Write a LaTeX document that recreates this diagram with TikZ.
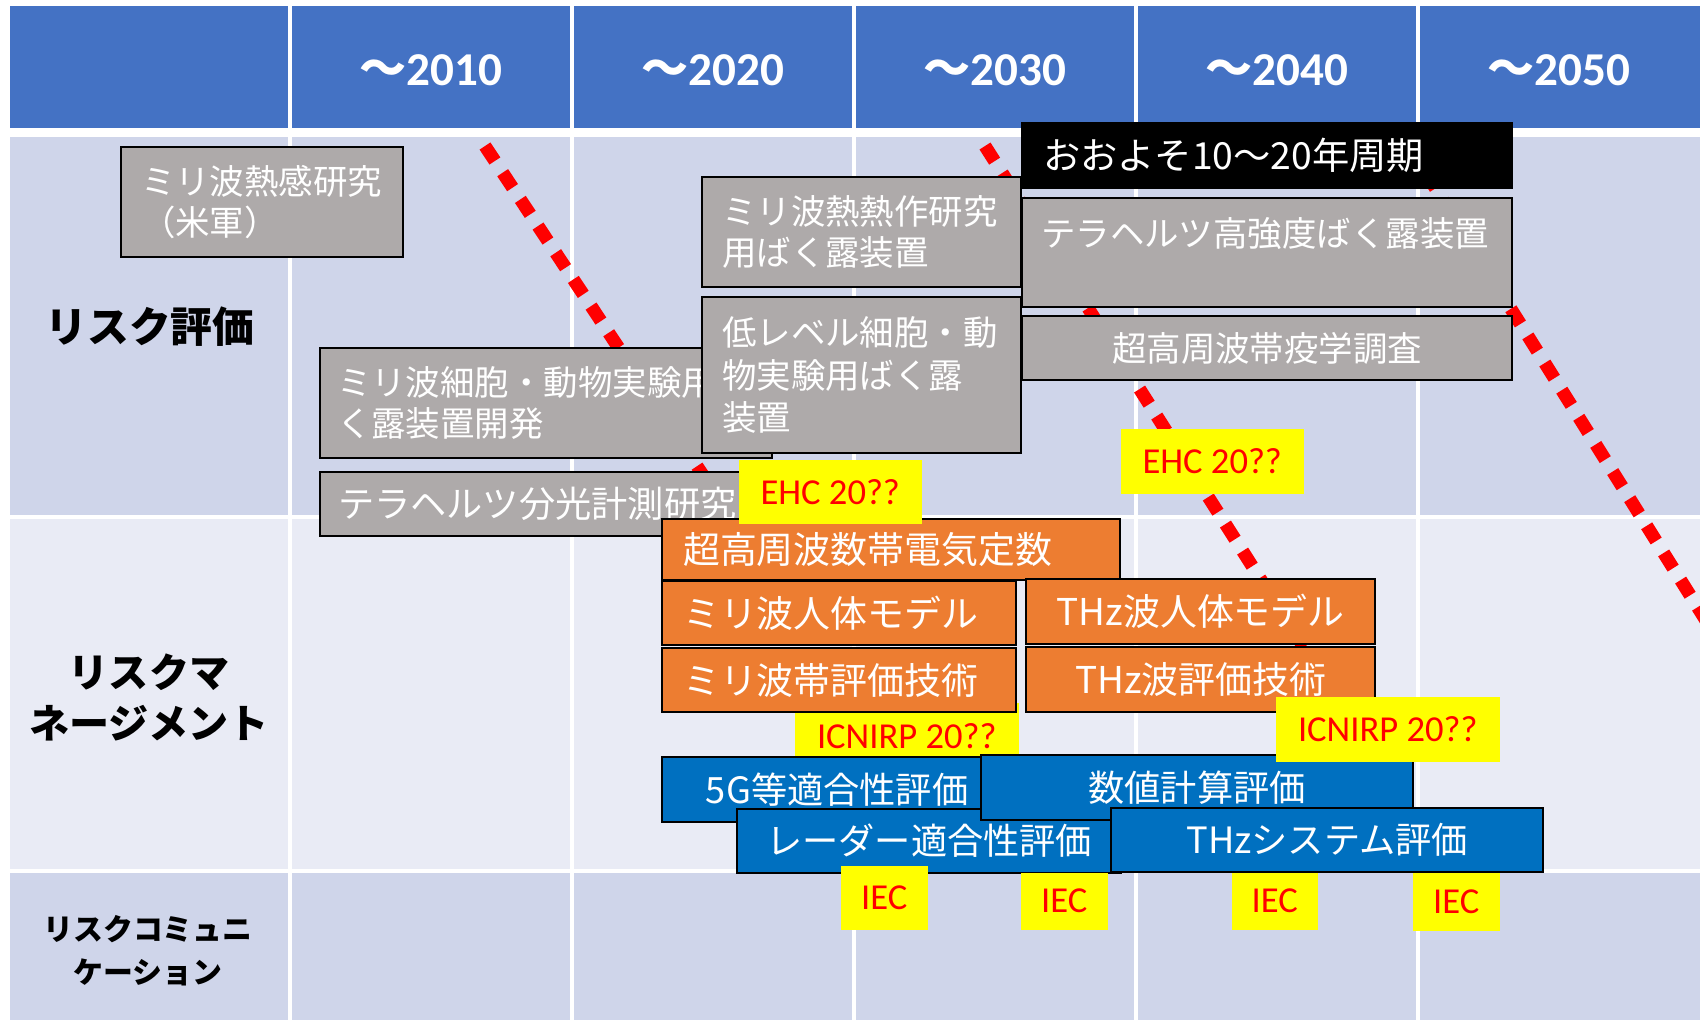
\documentclass[tikz,border=0pt]{standalone}
\usepackage{fontspec}
\setmainfont{Carlito}
\newfontfamily\jp{Noto Sans CJK JP}
\definecolor{hdrblue}{HTML}{4472C4}
\definecolor{rowa}{HTML}{CFD5EA}
\definecolor{rowb}{HTML}{E9EBF5}
\definecolor{graybox}{HTML}{AEAAAA}
\definecolor{orangebox}{HTML}{ED7D31}
\definecolor{bluebox}{HTML}{0070C0}
\definecolor{ylw}{HTML}{FFFF00}
\definecolor{rd}{HTML}{FF0000}
\tikzset{
  box/.style={draw=black, line width=0.6pt, text=white, inner ysep=0pt, anchor=north west},
  gbox/.style={box, fill=graybox, font=\jp\fontsize{9.8pt}{11.7pt}\selectfont},
  kbox/.style={box, fill=black, font=\jp\fontsize{10.6pt}{12pt}\selectfont},
  obox/.style={box, fill=orangebox, font=\jp\fontsize{10.5pt}{12.6pt}\selectfont},
  bbox/.style={box, fill=bluebox, font=\jp\fontsize{10.3pt}{12.4pt}\selectfont},
  ylab/.style={fill=ylw, text=rd, inner sep=0pt, anchor=north west, font=\fontsize{10.4pt}{12pt}\selectfont},
  hdrtext/.style={text=white, inner sep=0pt, font=\fontsize{13.4pt}{16pt}\selectfont\bfseries},
  rowlab/.style={text=black, inner sep=0pt, align=center},
  reddots/.style={draw=rd, line width=3.7pt, dash pattern=on 5.1pt off 4pt},
  gridline/.style={draw=white, line width=0.9pt}
}
\begin{document}
\begin{tikzpicture}[x=0.01cm,y=-0.01cm]
\useasboundingbox (0,0) rectangle (1700,1020);
\clip (0,0) rectangle (1700,1020);
\fill[white] (0,0) rectangle (1700,1020);
% table
\fill[hdrblue] (10,6) rectangle (1700,128);
\fill[rowa] (10,137) rectangle (1700,517);
\fill[rowb] (10,517) rectangle (1700,871);
\fill[rowa] (10,871) rectangle (1700,1020);
\foreach \xx in {290,572,854,1136,1418} {\draw[gridline] (\xx,6) -- (\xx,1020);}
\draw[gridline] (10,517) -- (1700,517);
\draw[gridline] (10,871) -- (1700,871);
% header
\node[hdrtext] (h1) at (431,70) {{\jp ～}2010};
\node[hdrtext] (h2) at (713,70) {{\jp ～}2020};
\node[hdrtext] (h3) at (995,70) {{\jp ～}2030};
\node[hdrtext] (h4) at (1277,70) {{\jp ～}2040};
\node[hdrtext] (h5) at (1559,70) {{\jp ～}2050};
% row labels
\node[rowlab, font=\jp\bfseries\fontsize{11.9pt}{14pt}\selectfont] (r1) at (150,327) {リスク評価};
\node[rowlab, font=\jp\bfseries\fontsize{11.4pt}{14.5pt}\selectfont] (r2) at (149,697) {リスクマ\\ネージメント};
\node[rowlab, font=\jp\bfseries\fontsize{8.5pt}{12.2pt}\selectfont] (r3) at (148,951) {リスクコミュニ\\ケーション};
% red dotted lines
\coordinate (l1s) at (485,146); \coordinate (l1e) at (736,525);
\coordinate (l2s) at (985,146); \coordinate (l2e) at (1310,657);
\coordinate (l3s) at (1409,146); \coordinate (l3e) at (1720,643);
\draw[reddots] (l1s) -- (l1e);
\draw[reddots] (l2s) -- (l2e);
\draw[reddots] (l3s) -- (l3e);
% gray boxes
\node[gbox, minimum height=1.10cm, text width=2.42cm, inner xsep=0.2cm, align=left] (ga) at (120,146) {ミリ波熱感研究\\（米軍）};
\node[gbox, minimum height=1.10cm, text width=4.18cm, inner xsep=0.17cm, align=left] (gb) at (319,347) {ミリ波細胞・動物実験用ば\\く露装置開発};
\node[gbox, minimum height=0.64cm, text width=4.35cm, inner xsep=0.18cm, align=left, font=\jp\fontsize{10.3pt}{12pt}\selectfont] (gc) at (319,471) {テラヘルツ分光計測研究};
\node[gbox, minimum height=1.10cm, text width=2.79cm, inner xsep=0.20cm, align=left] (gd) at (701,176) {ミリ波熱熱作研究\\用ばく露装置};
\node[gbox, minimum height=1.56cm, text width=2.79cm, inner xsep=0.20cm, align=left, font=\jp\fontsize{9.8pt}{12.1pt}\selectfont] (ge) at (701,296) {低レベル細胞・動\\物実験用ばく露\\装置};
\node[kbox, minimum height=0.65cm, text width=4.48cm, inner xsep=0.21cm, align=left] (gf) at (1021,122) {おおよそ10～20年周期};
\node[gbox, minimum height=1.09cm, text width=4.52cm, inner xsep=0.19cm, align=left] (gg) at (1021,197) {テラヘルツ高強度ばく露装置\\\mbox{}};
\node[gbox, minimum height=0.64cm, minimum width=4.90cm, inner xsep=0pt] (gh) at (1021,315) {超高周波帯疫学調査};
% ICNIRP left (under orange)
\node[ylab, minimum width=2.24cm, minimum height=0.66cm] (yp) at (794,702) {ICNIRP 20??};
% orange boxes
\node[obox, minimum height=0.61cm, text width=4.16cm, inner xsep=0.21cm, align=left] (oi) at (661,518) {超高周波数帯電気定数};
\node[obox, minimum height=0.64cm, text width=3.12cm, inner xsep=0.21cm, align=left] (oj) at (661,580) {ミリ波人体モデル};
\node[obox, minimum height=0.64cm, text width=3.12cm, inner xsep=0.21cm, align=left] (ok) at (661,647) {ミリ波帯評価技術};
\node[obox, minimum height=0.65cm, minimum width=3.49cm, inner xsep=0pt] (ol) at (1025,578) {THz波人体モデル};
\node[obox, minimum height=0.65cm, minimum width=3.49cm, inner xsep=0pt] (om) at (1025,646) {THz波評価技術};
% EHC labels
\node[ylab, minimum width=1.83cm, minimum height=0.64cm] (yn) at (738,459) {EHC 20??};
\node[ylab, minimum width=1.83cm, minimum height=0.65cm] (yo) at (1120,428) {EHC 20??};
% blue boxes
\node[bbox, minimum height=0.65cm, minimum width=3.50cm, inner xsep=0pt] (br) at (661,756) {5G等適合性評価};
\node[bbox, minimum height=0.64cm, minimum width=3.84cm, inner xsep=0pt] (bs) at (736,808) {レーダー適合性評価};
\node[bbox, minimum height=0.65cm, minimum width=4.32cm, inner xsep=0pt] (bt) at (980,754) {数値計算評価};
\node[bbox, minimum height=0.64cm, minimum width=4.32cm, inner xsep=0pt] (bu) at (1110,807) {THzシステム評価};
% yellow labels on top
\node[ylab, minimum width=2.24cm, minimum height=0.65cm] (yq) at (1275,696) {ICNIRP 20??};
\node[ylab, minimum width=0.87cm, minimum height=0.64cm] (v1) at (840,865) {IEC};
\node[ylab, minimum width=0.87cm, minimum height=0.57cm] (v2) at (1020,872) {IEC};
\node[ylab, minimum width=0.86cm, minimum height=0.57cm] (v3) at (1231,872) {IEC};
\node[ylab, minimum width=0.87cm, minimum height=0.58cm] (v4) at (1412,872) {IEC};
\end{tikzpicture}
\end{document}
